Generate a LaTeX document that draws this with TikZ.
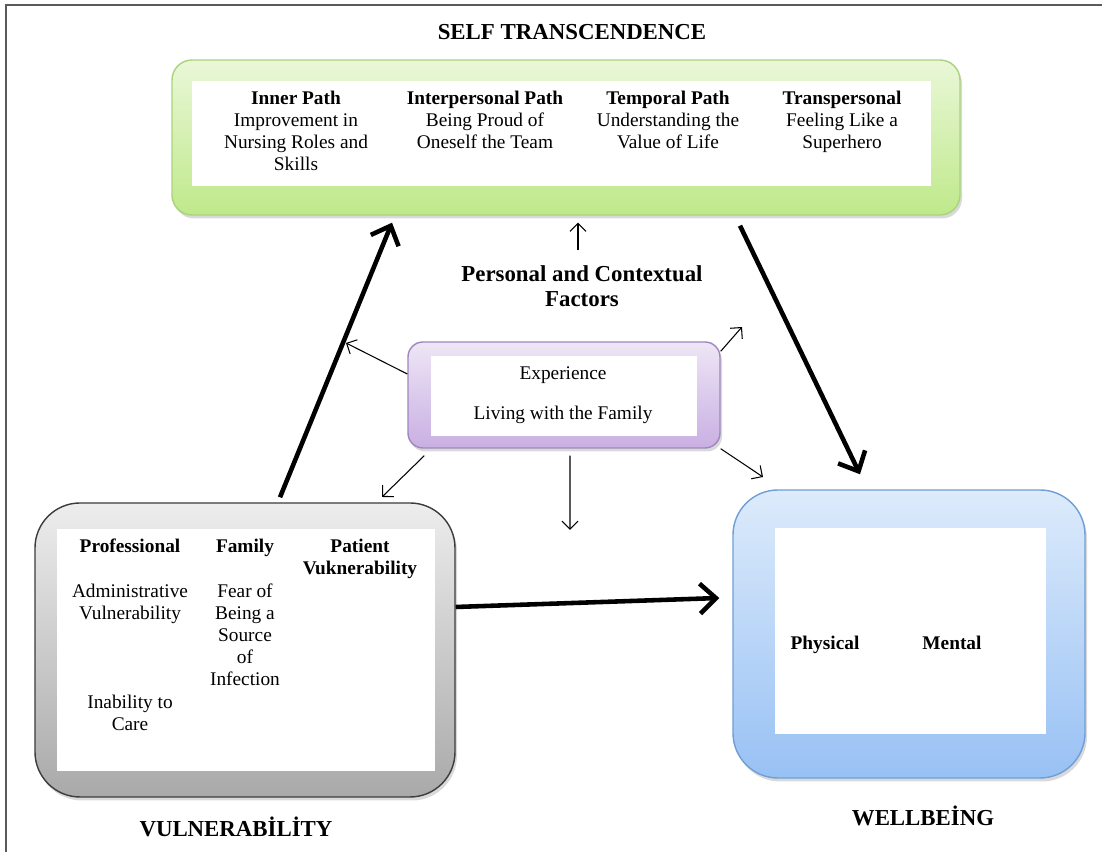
\documentclass[tikz,border=0pt]{standalone}
\usepackage{fontspec}
\setmainfont{Liberation Serif}
\usepackage{tikz}
\usetikzlibrary{arrows.meta,shadows}
\definecolor{frameColor}{HTML}{5A5A5A}
\definecolor{transTopColor}{HTML}{EAF7D8}
\definecolor{transBottomColor}{HTML}{BFE98A}
\definecolor{transLineColor}{HTML}{A9D47C}
\definecolor{ctxTopColor}{HTML}{EEE6F6}
\definecolor{ctxBottomColor}{HTML}{C9AFE2}
\definecolor{ctxLineColor}{HTML}{9F86BE}
\definecolor{vulnTopColor}{HTML}{EDEDED}
\definecolor{vulnBottomColor}{HTML}{A9A9A9}
\definecolor{vulnLineColor}{HTML}{3C3C3C}
\definecolor{wellTopColor}{HTML}{DDEBFB}
\definecolor{wellBottomColor}{HTML}{98C1F4}
\definecolor{wellLineColor}{HTML}{6F9FD6}

\begin{document}
\begin{tikzpicture}[
		box/.style={rounded corners=#1, inner sep=0pt, line width=0.8pt,
			drop shadow={opacity=0.3, shadow xshift=0.04cm, shadow yshift=-0.07cm}},
		txt/.style={align=center, inner sep=0pt, font=\fontsize{11}{12.5}\selectfont},
		head/.style={align=center, inner sep=0pt, font=\fontsize{11}{12.5}\selectfont\bfseries},
		title/.style={inner sep=0pt, font=\fontsize{13}{14}\selectfont\bfseries},
		bigarrow/.style={line width=2.6pt, -{Straight Barb[length=3.2mm,width=6mm]}},
		smallarrow/.style={line width=0.6pt, -{Straight Barb[length=1.6mm,width=3.2mm]}}
	]
	\useasboundingbox (0,0) rectangle (22.04,17.04);
	\draw[frameColor, line width=1.2pt] (0.12,0) -- (0.12,16.94) -- (22.04,16.94);

	\node[box=0.4cm, draw=transLineColor, top color=transTopColor, bottom color=transBottomColor,
		minimum width=15.76cm, minimum height=3.1cm] (trans) at (11.32,14.29) {};
	\node[box=0.3cm, draw=ctxLineColor, top color=ctxTopColor, bottom color=ctxBottomColor,
		minimum width=6.24cm, minimum height=2.12cm] (ctx) at (11.28,9.14) {};
	\node[box=0.9cm, draw=vulnLineColor, top color=vulnTopColor, bottom color=vulnBottomColor,
		minimum width=8.4cm, minimum height=5.88cm] (vuln) at (4.9,4.04) {};
	\node[box=0.9cm, draw=wellLineColor, top color=wellTopColor, bottom color=wellBottomColor,
		minimum width=7.04cm, minimum height=5.76cm] (well) at (18.18,4.36) {};

	\fill[white] ([xshift=0.42cm,yshift=-0.44cm]trans.north west) rectangle ([xshift=-0.6cm,yshift=0.6cm]trans.south east);
	\fill[white] ([xshift=0.48cm,yshift=-0.3cm]ctx.north west) rectangle ([xshift=-0.48cm,yshift=0.26cm]ctx.south east);
	\fill[white] ([xshift=0.46cm,yshift=-0.54cm]vuln.north west) rectangle ([xshift=-0.42cm,yshift=0.54cm]vuln.south east);
	\fill[white] ([xshift=0.86cm,yshift=-0.78cm]well.north west) rectangle ([xshift=-0.8cm,yshift=0.9cm]well.south east);

	\node[title] (transTitle) at (11.44,16.4) {SELF TRANSCENDENCE};
	\node[txt, anchor=north] (inner) at (5.92,15.22) {\textbf{Inner Path}\\Improvement in\\Nursing Roles and\\Skills};
	\node[txt, anchor=north] (interp) at (9.7,15.22) {\textbf{Interpersonal Path}\\Being Proud of\\Oneself the Team};
	\node[txt, anchor=north] (temporal) at (13.36,15.22) {\textbf{Temporal Path}\\Understanding the\\Value of Life};
	\node[txt, anchor=north] (transp) at (16.84,15.22) {\textbf{Transpersonal}\\Feeling Like a\\Superhero};

	\node[title, align=center] (factors) at (11.64,11.32) {Personal and Contextual\\Factors};
	\node[txt] (ctxText) at (11.26,9.14) {Experience\\[10pt]Living with the Family};

	\node[head, anchor=north] (prof) at (2.6,6.26) {Professional};
	\node[txt, anchor=north] (admin) at (2.6,5.36) {Administrative\\Vulnerability};
	\node[txt, anchor=north] (care) at (2.6,3.14) {Inability to\\Care};
	\node[head, anchor=north] (fam) at (4.9,6.26) {Family};
	\node[txt, anchor=north] (fear) at (4.9,5.36) {Fear of\\Being a\\Source\\of\\Infection};
	\node[head, anchor=north] (pat) at (7.2,6.26) {Patient\\Vuknerability};
	\node[title] (vulnTitle) at (4.72,0.5) {VULNERABİLİTY};

	\node[head, anchor=base] (phys) at (16.5,4.04) {Physical};
	\node[head, anchor=base] (ment) at (19.04,4.04) {Mental};
	\node[title] (wellTitle) at (18.46,0.72) {WELLBEİNG};

	\draw[bigarrow] ([xshift=0.7cm,yshift=0.1cm]vuln.north) -- ([xshift=-3.48cm,yshift=-0.14cm]trans.south);
	\draw[bigarrow] ([xshift=3.48cm,yshift=-0.2cm]trans.south) -- ([xshift=-0.98cm,yshift=0.3cm]well.north);
	\draw[bigarrow] ([yshift=0.86cm]vuln.east) -- ([xshift=-0.26cm,yshift=0.72cm]well.west);

	\coordinate (ctxUpLeft) at (6.92,10.18);
	\coordinate (ctxUpRight) at (14.84,10.5);
	\coordinate (ctxDownLeft) at (7.64,7.1);
	\coordinate (ctxDown) at (11.4,6.44);
	\coordinate (ctxDownRight) at (15.26,7.5);
	\draw[smallarrow] ([yshift=0.42cm]ctx.west) -- (ctxUpLeft);
	\draw[smallarrow] ([yshift=-0.2cm]ctx.north east) -- (ctxUpRight);
	\draw[smallarrow] ([xshift=0.34cm,yshift=-0.14cm]ctx.south west) -- (ctxDownLeft);
	\draw[smallarrow] ([xshift=0.12cm,yshift=-0.14cm]ctx.south) -- (ctxDown);
	\draw[smallarrow] (ctx.south east) -- (ctxDownRight);
	\draw[smallarrow, shorten <=0.3cm, shorten >=0.14cm] ([xshift=-0.08cm]factors.north) -- ([xshift=-0.08cm]factors.north |- trans.south);
\end{tikzpicture}
\end{document}
